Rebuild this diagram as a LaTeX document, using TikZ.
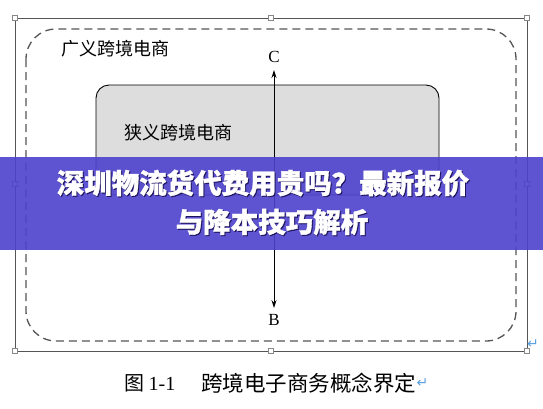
\documentclass[tikz,border=0pt]{standalone}
\usepackage{fontspec}
\setmainfont{Liberation Serif}
\newfontfamily\cjk{Noto Sans CJK SC}
\newfontfamily\cjkheavy{Noto Sans CJK SC}[BoldFeatures={FakeBold=1.3}]
\newfontfamily\symb{DejaVu Sans}
\usetikzlibrary{arrows.meta}
\definecolor{framegray}{RGB}{85,85,85}
\definecolor{boxgray}{RGB}{221,221,221}
\definecolor{banner}{RGB}{77,66,205}
\definecolor{retblue}{RGB}{90,160,225}
\definecolor{shadowc}{RGB}{30,20,90}
\tikzset{
  frame/.style={draw=framegray, line width=1pt},
  handle/.style={draw=framegray!70, fill=white, line width=0.5pt, minimum size=5pt, inner sep=0pt},
  dashbox/.style={draw=framegray, line width=1.3pt, dash pattern=on 8pt off 5pt, rounded corners=30pt},
  graybox/.style={draw=black, line width=0.9pt, fill=boxgray, rounded corners=13pt},
  cjklabel/.style={font=\cjk\fontsize{18}{20}\selectfont, inner sep=0pt, anchor=west},
  letter/.style={font=\fontsize{17}{20}\selectfont, inner sep=0pt},
  caption/.style={font=\cjk\fontsize{20}{22}\selectfont, inner sep=0pt, anchor=west},
  bannertext/.style={font=\cjkheavy\bfseries\fontsize{27.5}{30}\selectfont, text=white, inner sep=0pt},
  bannershadow/.style={font=\cjkheavy\bfseries\fontsize{27.5}{30}\selectfont, text=shadowc, inner sep=0pt},
  retmark/.style={font=\symb\fontsize{14}{15}\selectfont, text=retblue, inner sep=0pt},
  arr/.style={draw=black, line width=0.9pt, {Stealth[length=8pt,width=5pt]}-{Stealth[length=8pt,width=5pt]}}
}
\begin{document}
\begin{tikzpicture}[x=1pt,y=-1pt]
\useasboundingbox (0,0) rectangle (543,408);
\fill[white] (0,0) rectangle (543,408);
% outer frame
\draw[frame] (15,18) rectangle (527,351);
\foreach \p [count=\i] in {(15,18),(271,18),(527,18),(15,184),(527,184),(15,351),(271,351),(527,351)}
  \node[handle] (h\i) at \p {};
% dashed rounded box
\draw[dashbox] (26,29) rectangle (516,341);
\node[cjklabel] (wide) at (61,49) {广义跨境电商};
% gray box
\draw[graybox] (96,85) rectangle (439,195);
\node[cjklabel] (narrow) at (124,133) {狭义跨境电商};
% arrow
\node[letter] (C) at (274,57) {C};
\node[letter] (B) at (274,320) {B};
\coordinate (ct) at (274,70);
\coordinate (cb) at (274,308);
\draw[arr] (ct) -- (cb);
% return marks
\node[retmark] (r1) at (533,344) {↵};
% caption
\node[caption] (fig) at (124,383) {图\ {\rmfamily\fontsize{20}{22}\selectfont 1-1}};
\node[caption, font=\cjk\fontsize{21.5}{22}\selectfont] (cap) at (201,383) {跨境电子商务概念界定};
\node[retmark, anchor=west] (r2) at (cap.east) {↵};
% banner
\fill[banner, fill opacity=0.9] (0,157) rectangle (543,250);
\node[bannershadow] (t1s) at (264,184) {深圳物流货代费用贵吗？最新报价};
\node[bannershadow] (t2s) at (273,223) {与降本技巧解析};
\node[bannertext] (t1) at (263,183) {深圳物流货代费用贵吗？最新报价};
\node[bannertext] (t2) at (272,222) {与降本技巧解析};
\end{tikzpicture}
\end{document}
